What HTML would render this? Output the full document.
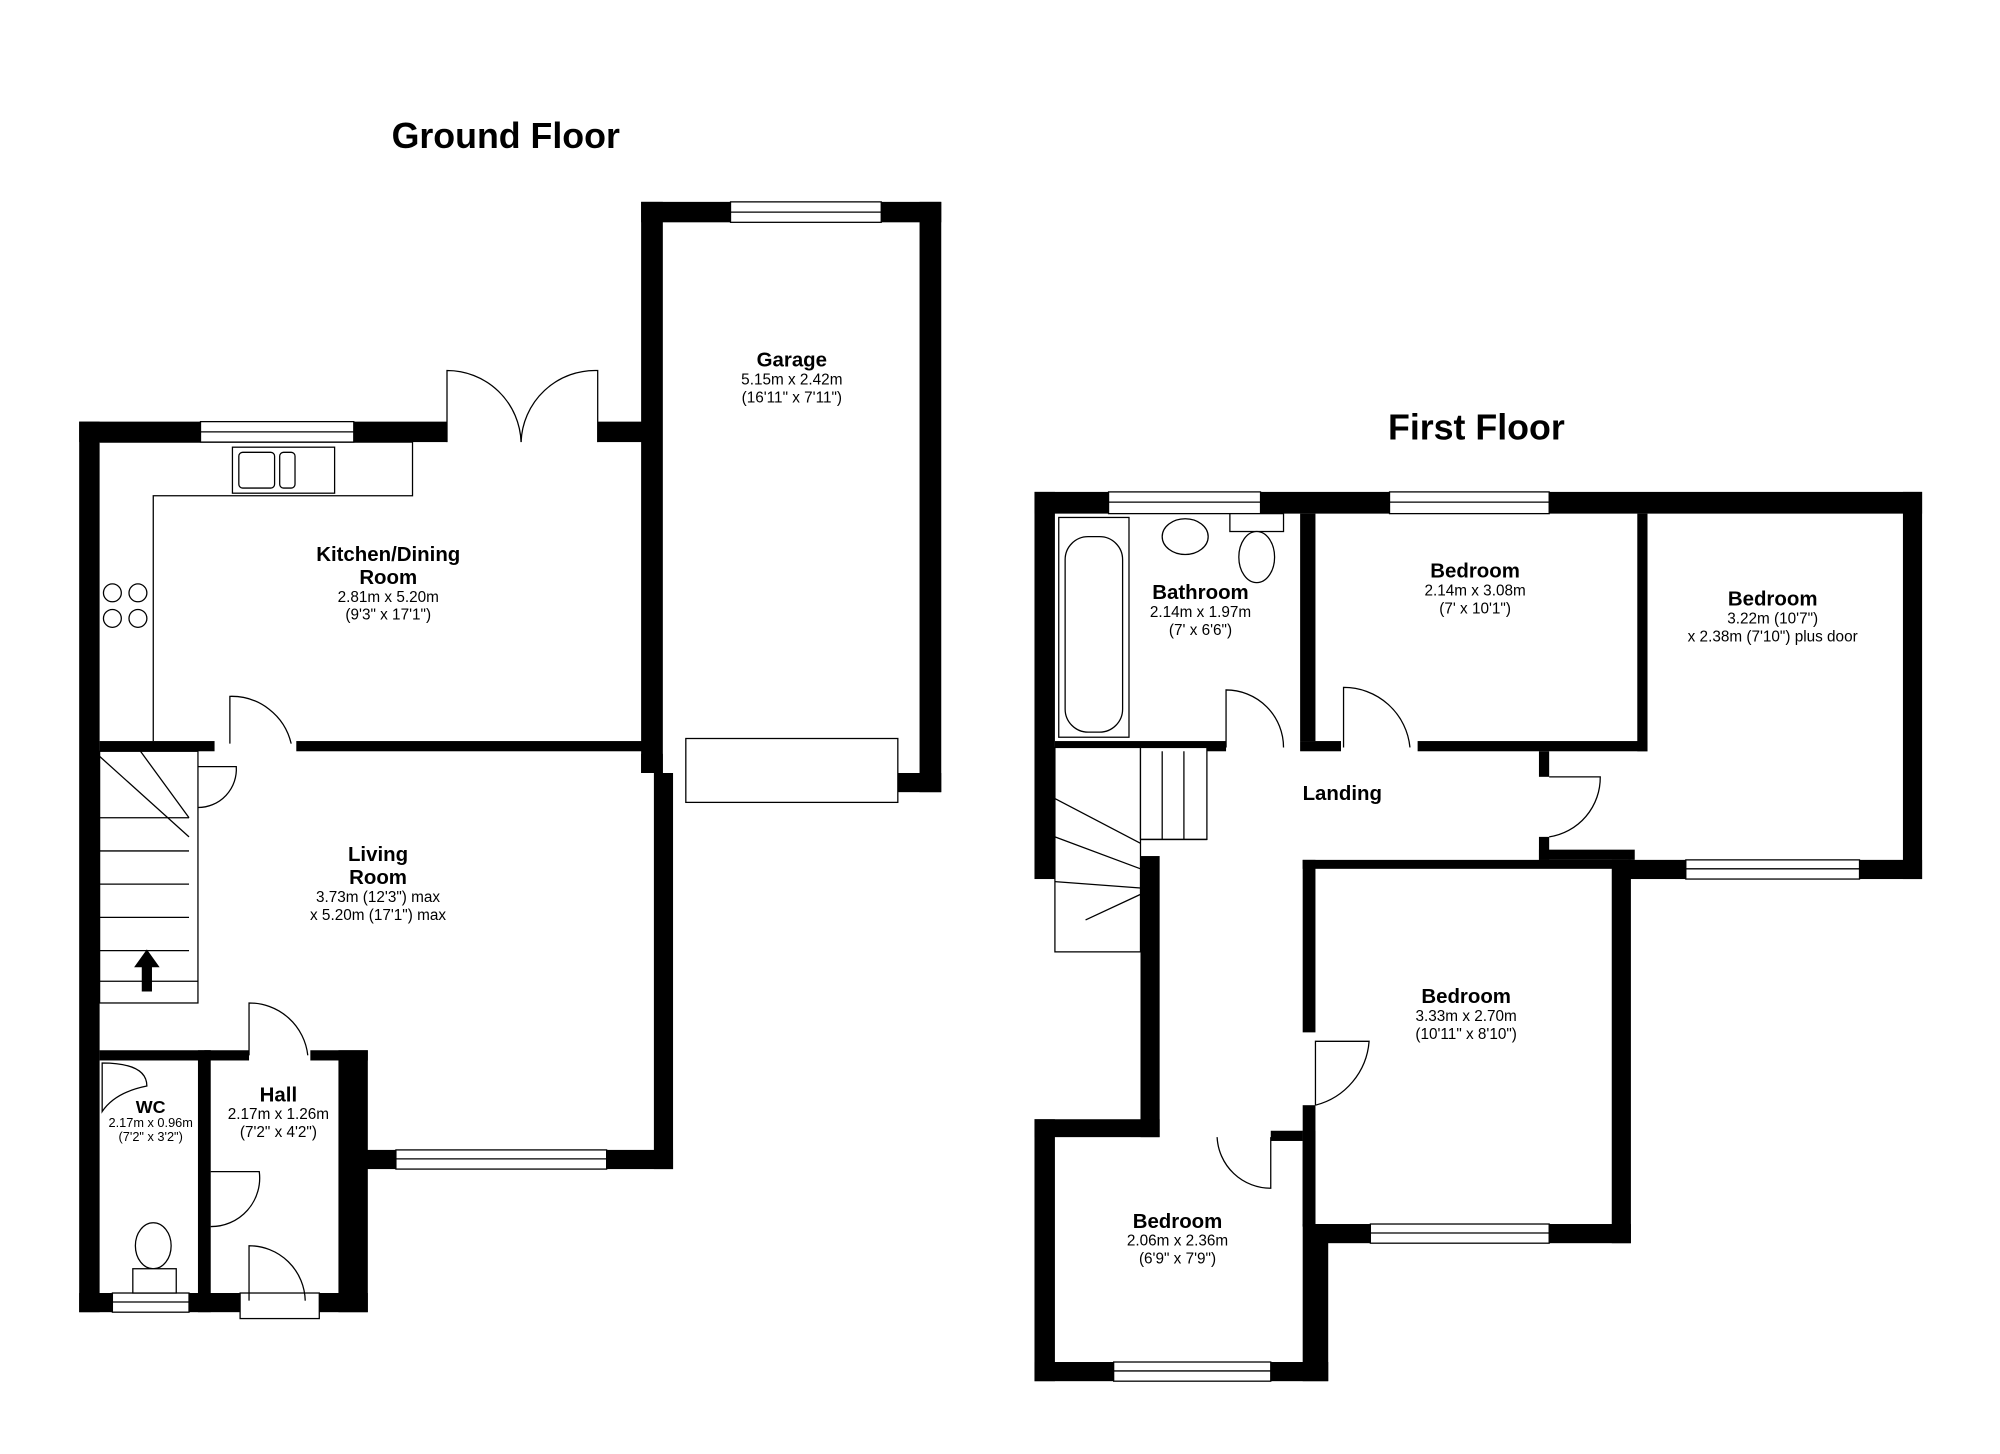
<!DOCTYPE html>
<html><head><meta charset="utf-8"><style>
html,body{margin:0;padding:0;background:#fff;width:2000px;height:1454px;overflow:hidden}
svg{display:block}
text{font-family:"Liberation Sans",Arial,sans-serif;fill:#000;text-anchor:middle}
.t{font-weight:bold;font-size:16px}
.d{font-size:12px}
.h{font-weight:bold;font-size:28px}
</style></head><body>
<svg width="2000" height="1454" viewBox="0 0 1566 1138" preserveAspectRatio="none" xmlns="http://www.w3.org/2000/svg">
<rect width="1566" height="1138" fill="#fff"/>
<text class="h" x="396" y="116">Ground Floor</text>
<text class="h" x="1156" y="344">First Floor</text>

<g fill="#000">
<rect x="62" y="330" width="16" height="697"/>
<rect x="62" y="330" width="95" height="16"/>
<rect x="277" y="330" width="73" height="16"/>
<rect x="468" y="330" width="47" height="16"/>
<rect x="502" y="158" width="17" height="447"/>
<rect x="502" y="158" width="70" height="16"/>
<rect x="690" y="158" width="47" height="16"/>
<rect x="720" y="158" width="17" height="462"/>
<rect x="703" y="605" width="34" height="15"/>
<rect x="502" y="590" width="17" height="15"/>
<rect x="78" y="580" width="90" height="8"/>
<rect x="232" y="580" width="283" height="8"/>
<rect x="512" y="605" width="15" height="310"/>
<rect x="280" y="900" width="30" height="15"/>
<rect x="475" y="900" width="52" height="15"/>
<rect x="265" y="822" width="23" height="205"/>
<rect x="160" y="822" width="35" height="8"/>
<rect x="243" y="822" width="45" height="8"/>
<rect x="155" y="822" width="10" height="205"/>
<rect x="78" y="822" width="87" height="8"/>
<rect x="62" y="1012" width="26" height="15"/>
<rect x="148" y="1012" width="40" height="15"/>
<rect x="250" y="1012" width="38" height="15"/>
<rect x="148" y="588" width="5" height="180"/>

<rect x="810" y="385" width="58" height="17"/>
<rect x="987" y="385" width="101" height="17"/>
<rect x="1213" y="385" width="292" height="17"/>
<rect x="810" y="385" width="16" height="303"/>
<rect x="1490" y="385" width="15" height="303"/>
<rect x="1275" y="673" width="45" height="15"/>
<rect x="1456" y="673" width="49" height="15"/>
<rect x="1018" y="402" width="12" height="178"/>
<rect x="826" y="580" width="134" height="8"/>
<rect x="1018" y="580" width="32" height="8"/>
<rect x="1110" y="580" width="180" height="8"/>
<rect x="1282" y="402" width="8" height="186"/>
<rect x="1205" y="588" width="8" height="20"/>
<rect x="1205" y="655" width="8" height="18"/>
<rect x="1205" y="665" width="75" height="8"/>
<rect x="893" y="670" width="15" height="220"/>
<rect x="1020" y="673" width="10" height="135"/>
<rect x="1020" y="865" width="10" height="95"/>
<rect x="1020" y="673" width="257" height="7"/>
<rect x="1262" y="673" width="15" height="300"/>
<rect x="1030" y="958" width="43" height="15"/>
<rect x="1213" y="958" width="64" height="15"/>
<rect x="810" y="876" width="16" height="205"/>
<rect x="810" y="876" width="98" height="14"/>
<rect x="995" y="885" width="25" height="8"/>
<rect x="1020" y="885" width="10" height="75"/>
<rect x="1020" y="958" width="20" height="123"/>
<rect x="810" y="1066" width="62" height="15"/>
<rect x="995" y="1066" width="45" height="15"/>
</g>

<g fill="#fff" stroke="#000" stroke-width="1">
<rect x="157" y="330" width="120" height="16"/><line x1="157" y1="338" x2="277" y2="338"/>
<rect x="572" y="158" width="118" height="16"/><line x1="572" y1="166" x2="690" y2="166"/>
<rect x="310" y="900" width="165" height="15"/><line x1="310" y1="907" x2="475" y2="907"/>
<rect x="88" y="1012" width="60" height="15"/><line x1="88" y1="1019" x2="148" y2="1019"/>
<rect x="188" y="1012" width="62" height="20"/>
<rect x="868" y="385" width="119" height="17"/><line x1="868" y1="393" x2="987" y2="393"/>
<rect x="1088" y="385" width="125" height="17"/><line x1="1088" y1="393" x2="1213" y2="393"/>
<rect x="1320" y="673" width="136" height="15"/><line x1="1320" y1="680" x2="1456" y2="680"/>
<rect x="1073" y="958" width="140" height="15"/><line x1="1073" y1="965" x2="1213" y2="965"/>
<rect x="872" y="1066" width="123" height="15"/><line x1="872" y1="1073" x2="995" y2="1073"/>
<rect x="537" y="578" width="166" height="50"/>
<path d="M78 346 H323 V388 H120 V580" fill="none"/>
<rect x="182" y="350" width="80" height="36"/>
<rect x="187" y="354" width="28" height="28" rx="3"/>
<rect x="219" y="354" width="12" height="28" rx="3"/>
<circle cx="88" cy="464" r="7"/><circle cx="108" cy="464" r="7"/>
<circle cx="88" cy="484" r="7"/><circle cx="108" cy="484" r="7"/>
<rect x="78" y="588" width="77" height="197"/>
<rect x="829" y="405" width="55" height="172"/>
<rect x="834" y="420" width="45" height="153" rx="18"/>
<ellipse cx="928" cy="420" rx="18" ry="14"/>
<rect x="963" y="402" width="42" height="14"/>
<ellipse cx="984" cy="436" rx="14" ry="20"/>
<ellipse cx="120" cy="975" rx="14" ry="18"/>
<rect x="104" y="993" width="34" height="19"/>
<rect x="826" y="585" width="67" height="160"/>
<rect x="893" y="585" width="52" height="72"/>
</g>

<g stroke="#000" stroke-width="1" fill="none">
<line x1="78" y1="640" x2="148" y2="640"/><line x1="78" y1="666" x2="148" y2="666"/>
<line x1="78" y1="692" x2="148" y2="692"/><line x1="78" y1="718" x2="148" y2="718"/>
<line x1="78" y1="744" x2="148" y2="744"/><line x1="78" y1="768" x2="155" y2="768"/>
<line x1="78" y1="592" x2="148" y2="655"/><line x1="110" y1="588" x2="148" y2="640"/>
<line x1="910" y1="588" x2="910" y2="657"/><line x1="927" y1="588" x2="927" y2="657"/>
<line x1="826" y1="625" x2="893" y2="660"/><line x1="826" y1="655" x2="893" y2="680"/>
<line x1="826" y1="690" x2="893" y2="695"/><line x1="850" y1="720" x2="893" y2="700"/>
<line x1="893" y1="657" x2="945" y2="657"/>
<path d="M350 346 V290 A58 58 0 0 1 408 346"/><path d="M468 346 V290 A58 58 0 0 0 408 346"/>
<path d="M180 582 V545 A48 48 0 0 1 228 582"/>
<path d="M155 600 H185 A30 30 0 0 1 155 632"/>
<path d="M195 826 V785 A46 46 0 0 1 241 826"/>
<path d="M165 917 H203 A38 38 0 0 1 165 960"/>
<path d="M195 1018 V975 A44 44 0 0 1 239 1018"/>
<path d="M960 585 V540 A45 45 0 0 1 1005 585"/>
<path d="M1052 585 V538 A52 52 0 0 1 1104 585"/>
<path d="M1213 608 H1253 A47 47 0 0 1 1213 655"/>
<path d="M1030 865 V815 H1072 A56 56 0 0 1 1030 865"/>
<path d="M995 890 V930 A42 42 0 0 1 953 890"/>
</g>
<path d="M115 743 L105 757 H111 V776 H119 V757 H125 Z" fill="#000"/>
<path d="M80 832 Q115 832 115 850 Q90 855 80 870 Z" fill="#fff" stroke="#000"/>

<text class="t" x="620" y="287">Garage</text>
<text class="d" x="620" y="301">5.15m x 2.42m</text>
<text class="d" x="620" y="315">(16'11" x 7'11")</text>
<text class="t" x="304" y="439">Kitchen/Dining</text>
<text class="t" x="304" y="457">Room</text>
<text class="d" x="304" y="471">2.81m x 5.20m</text>
<text class="d" x="304" y="485">(9'3" x 17'1")</text>
<text class="t" x="296" y="674">Living</text>
<text class="t" x="296" y="692">Room</text>
<text class="d" x="296" y="706">3.73m (12'3") max</text>
<text class="d" x="296" y="720">x 5.20m (17'1") max</text>
<text class="t" x="218" y="862">Hall</text>
<text class="d" x="218" y="876">2.17m x 1.26m</text>
<text class="d" x="218" y="890">(7'2" x 4'2")</text>
<text class="t" x="118" y="871" style="font-size:14px">WC</text>
<text class="d" x="118" y="882" style="font-size:10px">2.17m x 0.96m</text>
<text class="d" x="118" y="893" style="font-size:10px">(7'2" x 3'2")</text>
<text class="t" x="940" y="469">Bathroom</text>
<text class="d" x="940" y="483">2.14m x 1.97m</text>
<text class="d" x="940" y="497">(7' x 6'6")</text>
<text class="t" x="1155" y="452">Bedroom</text>
<text class="d" x="1155" y="466">2.14m x 3.08m</text>
<text class="d" x="1155" y="480">(7' x 10'1")</text>
<text class="t" x="1388" y="474">Bedroom</text>
<text class="d" x="1388" y="488">3.22m (10'7")</text>
<text class="d" x="1388" y="502">x 2.38m (7'10") plus door</text>
<text class="t" x="1051" y="626">Landing</text>
<text class="t" x="1148" y="785">Bedroom</text>
<text class="d" x="1148" y="799">3.33m x 2.70m</text>
<text class="d" x="1148" y="813">(10'11" x 8'10")</text>
<text class="t" x="922" y="961">Bedroom</text>
<text class="d" x="922" y="975">2.06m x 2.36m</text>
<text class="d" x="922" y="989">(6'9" x 7'9")</text>
</svg>
</body></html>
